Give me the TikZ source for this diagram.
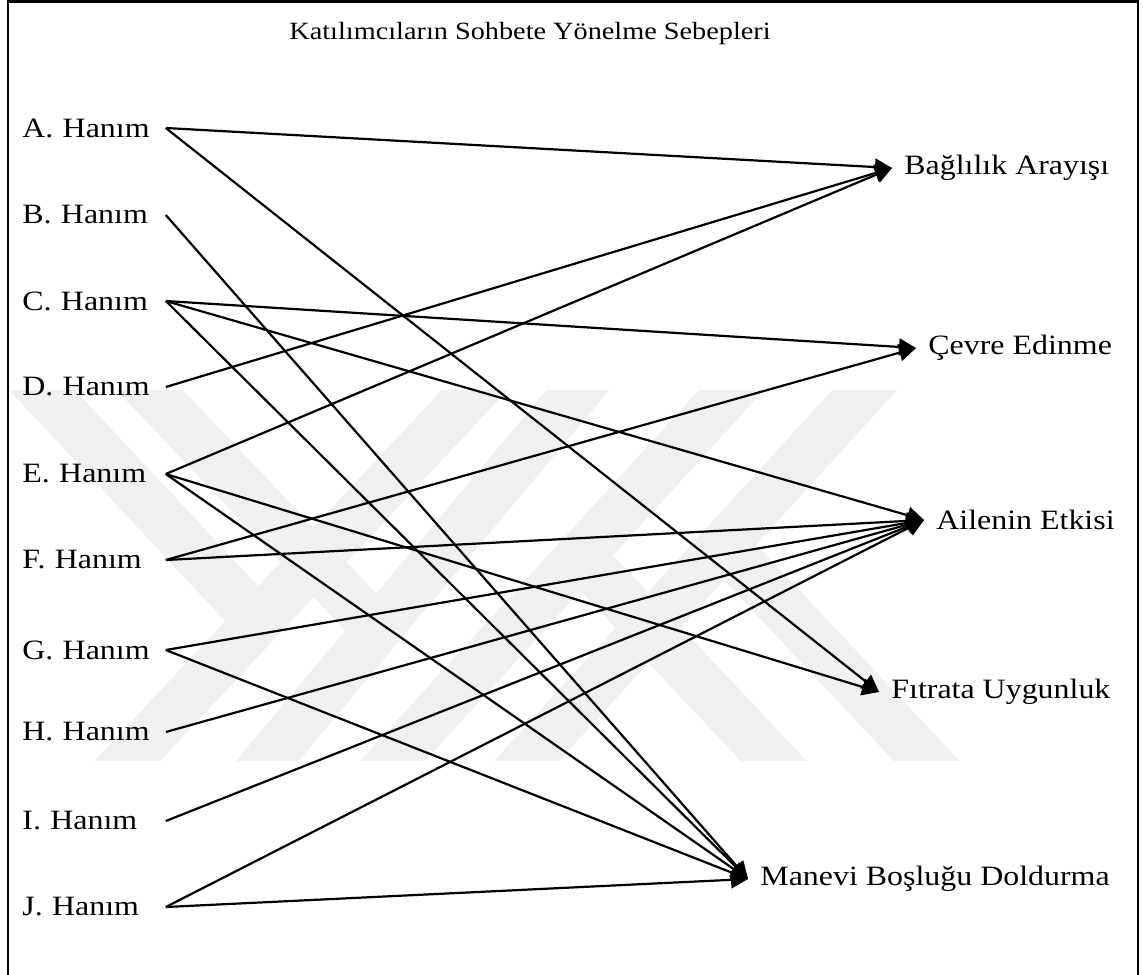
\documentclass[tikz,border=0pt]{standalone}
\usepackage{fontspec}
\setmainfont{Liberation Serif}[FakeStretch=1.14]
\usepackage{tikz}
\usetikzlibrary{arrows.meta, positioning}
\definecolor{mydark}{RGB}{0,0,0}
\definecolor{mymark}{RGB}{240,240,240}
\tikzset{
  person/.style={anchor=west, inner sep=0pt, text width=71.5pt, align=left,
    font=\fontsize{14}{16}\selectfont},
  reason/.style={anchor=west, inner xsep=6pt, inner ysep=0pt,
    font=\fontsize{14}{16}\selectfont},
  heading/.style={anchor=base, font=\fontsize{12.4}{14}\selectfont},
  arrow/.style={-{Triangle[length=8.5pt,width=8.5pt]}, line width=1.1pt, color=mydark},
  frame/.style={line width=1.3pt, color=mydark},
  wmark/.style={line width=24pt, color=mymark, line cap=butt}
}

\begin{document}
\begin{tikzpicture}[x=0.5pt, y=-0.5pt]
  \useasboundingbox (0,0) rectangle (1143,974);

  % Watermark
  \begin{scope}
    \clip (0,390) rectangle (1143,760);
    \draw[wmark] (503,360) -- (100,790);
    \draw[wmark] (603,360) -- (243,790);
    \draw[wmark] (759,360) -- (366,790);
    \draw[wmark] (892,360) -- (500,790);
    \draw[wmark] (14,360) -- (258,621);
    \draw[wmark] (121,360) -- (377,629);
    \draw[wmark] (580,555) -- (801,790);
    \draw[wmark] (724,545) -- (954,790);
  \end{scope}

  % Frame and title
  \draw[frame] (8,1.5) rectangle (1138,976);
  \node[heading] (title) at (530,40) {Katılımcıların Sohbete Yönelme Sebepleri};

  % Participants
  \node[person] (A) at (22,128) {A. Hanım};
  \node[person] (B) at (22,215) {B. Hanım};
  \node[person] (C) at (22,301) {C. Hanım};
  \node[person] (D) at (22,387) {D. Hanım};
  \node[person] (E) at (22,474) {E. Hanım};
  \node[person] (F) at (22,560) {F. Hanım};
  \node[person] (G) at (22,650) {G. Hanım};
  \node[person] (H) at (22,732) {H. Hanım};
  \node[person] (I) at (22,821) {I. Hanım};
  \node[person] (J) at (22,907) {J. Hanım};

  % Reasons
  \node[reason] (bag) at (892,168) {Bağlılık Arayışı};
  \node[reason] (cevre) at (916,348) {Çevre Edinme};
  \node[reason] (aile) at (924,520) {Ailenin Etkisi};
  \node[reason] (fitrat) at (879,692) {Fıtrata Uygunluk};
  \node[reason] (manevi) at (748,879) {Manevi Boşluğu Doldurma};

  % Links
  \draw[arrow] (A.east) -- (bag.west);
  \draw[arrow] (A.east) -- (fitrat.west);
  \draw[arrow] (B.east) -- (manevi.west);
  \draw[arrow] (C.east) -- (cevre.west);
  \draw[arrow] (C.east) -- (aile.west);
  \draw[arrow] (C.east) -- (manevi.west);
  \draw[arrow] (D.east) -- (bag.west);
  \draw[arrow] (E.east) -- (bag.west);
  \draw[arrow] (E.east) -- (fitrat.west);
  \draw[arrow] (E.east) -- (manevi.west);
  \draw[arrow] (F.east) -- (cevre.west);
  \draw[arrow] (F.east) -- (aile.west);
  \draw[arrow] (G.east) -- (aile.west);
  \draw[arrow] (G.east) -- (manevi.west);
  \draw[arrow] (H.east) -- (aile.west);
  \draw[arrow] (I.east) -- (aile.west);
  \draw[arrow] (J.east) -- (aile.west);
  \draw[arrow] (J.east) -- (manevi.west);
\end{tikzpicture}
\end{document}
